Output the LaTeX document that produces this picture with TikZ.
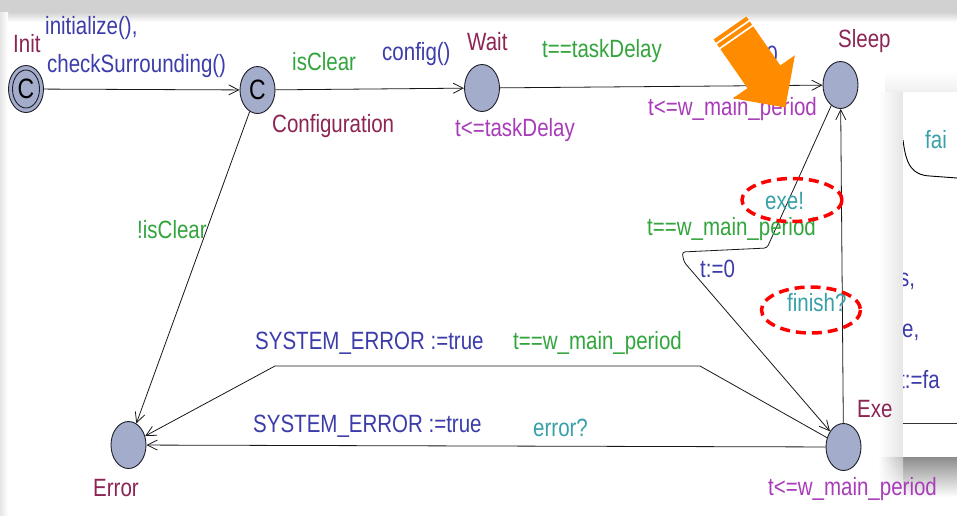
\documentclass[tikz,border=0pt]{standalone}
\usepackage{fontspec}
\setmainfont{Liberation Sans}[FakeStretch=0.82]
\usetikzlibrary{shapes.geometric,arrows.meta,shadings}
\definecolor{locfill}{RGB}{164,172,204}
\definecolor{locline}{RGB}{30,30,40}
\definecolor{cname}{RGB}{140,36,84}
\definecolor{cupd}{RGB}{60,60,170}
\definecolor{cguard}{RGB}{50,165,60}
\definecolor{cinv}{RGB}{168,60,185}
\definecolor{csync}{RGB}{55,160,168}
\definecolor{carrow}{RGB}{255,140,0}
\newcommand\lblfont{\fontsize{25}{28}\selectfont}
\begin{document}
\begin{tikzpicture}[x=1pt,y=-1pt,
  loc/.style={ellipse, draw=locline, fill=locfill, line width=0.9pt,
    minimum width=35pt, minimum height=47pt, inner sep=0pt,
    font=\fontsize{28}{30}\selectfont},
  edge/.style={draw=black!90, line width=0.8pt,
    -{Straight Barb[length=10pt,width=10pt,line width=0.8pt]}},
  lbl/.style={inner sep=0pt, anchor=west, font=\lblfont},
  nm/.style={lbl, text=cname},
  upd/.style={lbl, text=cupd},
  grd/.style={lbl, text=cguard},
  inv/.style={lbl, text=cinv},
  syn/.style={lbl, text=csync},
  hl/.style={draw=red, line width=3.5pt, dash pattern=on 10pt off 6pt},
]
\useasboundingbox (0,0) rectangle (957,515);
% background
\fill[white] (0,0) rectangle (957,515);
\fill[black!18] (0,0) rectangle (957,12);
\shade[top color=black!18, bottom color=white] (0,12) rectangle (957,22);
\shade[left color=black!10, right color=white] (0,12) rectangle (8,515);

% shadow of the overlay panel (drawn under the diagram texts)
\shade[top color=white, bottom color=black!6] (885,72) rectangle (957,92);
\shade[left color=white, right color=black!10] (878,92) rectangle (903,457);
\shade[top color=black!45, bottom color=white] (903,457) rectangle (957,497);
\shade[upper left=white, upper right=black!25, lower left=white, lower right=white]
  (878,457) rectangle (903,497);

% locations
\node[loc] (init) at (26,89) {C};
\draw[locline, line width=0.9pt] (init.center) ellipse [x radius=13.5, y radius=19];
\node[loc] (conf) at (257.5,90) {C};
\node[loc] (wait) at (482,88) {};
\node[loc] (sleep) at (840.5,85) {};
\node[loc] (exe) at (843.5,447) {};
\node[loc] (err) at (128.5,445) {};

% waypoints
\coordinate (c1) at (767,248);
\coordinate (c2) at (682,252);
\coordinate (c3) at (684,262);
\coordinate (d1) at (700,366);
\coordinate (d2) at (275,366);

% edges
\draw[edge] (init) -- (conf);
\draw[edge] (conf) -- (wait);
\draw[edge] (wait) -- (sleep);
\draw[edge] (conf) -- (err);
\draw[edge] (exe) -- (sleep);
\draw[edge, rounded corners=3pt] (sleep) -- (c1) -- (c2) -- (c3) -- (exe);
\draw[edge] (exe) -- (d1) -- (d2) -- (err);
\draw[edge] (exe) -- (err);

% labels
\node[nm] (tInit) at (13,44) {Init};
\node[upd] (tIni1) at (45,28) {initialize(),};
\node[upd] (tIni2) at (47,66) {checkSurrounding()};
\node[grd] (tClr) at (292,62) {isClear};
\node[nm] (tConf) at (272,126) {Configuration};
\node[upd] (tCfg) at (382,54) {config()};
\node[nm] (tWait) at (467,42) {Wait};
\node[inv] (tWinv) at (455,130) {t<=taskDelay};
\node[grd] (tWg) at (542,51) {t==taskDelay};
\node[upd, anchor=east] (tWu) at (778,55) {t:=0};
\node[inv] (tSinv) at (648,109) {t<=w\_main\_period};
\node[nm] (tSleep) at (838,41) {Sleep};
\node[syn] (tExeS) at (765,201) {exe!};
\node[grd] (tSg) at (647,229) {t==w\_main\_period};
\node[upd] (tSu) at (700,269) {t:=0};
\node[syn] (tFin) at (787,303) {finish?};
\node[grd] (tNClr) at (137,230) {!isClear};
\node[upd] (tSE1) at (255,343) {SYSTEM\_ERROR :=true};
\node[grd] (tEg) at (513,343) {t==w\_main\_period};
\node[upd] (tSE2) at (253,426) {SYSTEM\_ERROR :=true};
\node[syn] (tErrS) at (533,428) {error?};
\node[nm] (tExe) at (857,409) {Exe};
\node[inv] (tEinv) at (768,489) {t<=w\_main\_period};
\node[nm] (tErr) at (93,488) {Error};

% highlights
\draw[hl] (792,200) ellipse [x radius=50, y radius=21.5];
\draw[hl] (811,310) ellipse [x radius=49.5, y radius=23];

% orange arrow
\fill[carrow] (720.4,49.2) -- (747.5,88.2) -- (732.9,98.3) -- (785.3,107.5)
  -- (794.9,55.3) -- (780.3,65.4) -- (753.2,26.4) -- cycle;
\fill[carrow] (713.6,39.4) -- (715.9,42.7) -- (748.7,19.9) -- (746.4,16.6) -- cycle;
\fill[carrow] (717.0,44.3) -- (719.3,47.6) -- (752.1,24.8) -- (749.8,21.5) -- cycle;

% overlay panel
\begin{scope}
  \clip (903,92) rectangle (957,457);
  \fill[white] (903,92) rectangle (957,457);
  \node[syn] (pFai) at (925,140) {fai};
  \draw[black, line width=0.9pt] (903,140) .. controls (906,165) and (912,175) .. (930,176) -- (957,178);
  \node[upd] (pS) at (899,281) {s,};
  \node[upd] (pE) at (902,332) {e,};
  \node[upd] (pT) at (899,380) {t:=fa};
  \draw[black!80, line width=1pt] (903,423) -- (957,423);
\end{scope}
\end{tikzpicture}
\end{document}
